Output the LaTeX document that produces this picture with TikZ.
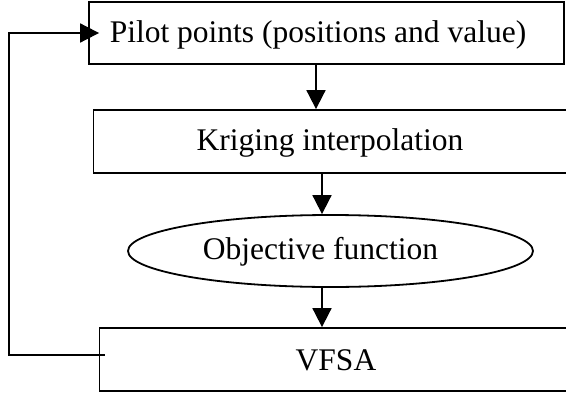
\documentclass[tikz,border=0pt]{standalone}
\usepackage{fontspec}
\setmainfont{Liberation Serif}
\usetikzlibrary{arrows.meta,shapes.geometric}
\begin{document}
\begin{tikzpicture}[x=1pt,y=-1pt,
  every node/.style={font=\fontsize{31.5}{36}\selectfont, inner sep=0pt},
  stepbox/.style={draw, line width=1.8pt, rectangle},
  ovalbox/.style={draw, line width=1.8pt, ellipse},
  arr/.style={line width=1.8pt, -{Triangle[length=19pt,width=19pt]}}]
\useasboundingbox (0,0) rectangle (566,394);
\node[stepbox, minimum width=475pt, minimum height=62pt,
  label={[xshift=-8.5pt,yshift=-1.5pt]center:Pilot points (positions and value)}] (b1) at (326.5,33) {};
\node[stepbox, minimum width=473pt, minimum height=63pt,
  label={[yshift=-1.5pt]center:Kriging interpolation}] (b2) at (330,141.5) {};
\node[ovalbox, minimum width=405pt, minimum height=72pt,
  label={[xshift=-10pt,yshift=-1pt]center:Objective function}] (ell) at (330.5,251) {};
\node[stepbox, minimum width=467pt, minimum height=63pt,
  label={[xshift=3pt,yshift=-1pt]center:VFSA}] (b3) at (333,359.5) {};
\coordinate (c1) at (316,0);
\coordinate (c2) at (322,0);
\coordinate (fbx) at (9,0);
\draw[arr] (b1.south -| c1) -- (b2.north -| c1);
\draw[arr] (b2.south -| c2) -- (ell.north -| c2);
\draw[arr] (ell.south -| c2) -- (b3.north -| c2);
\draw[arr] ([xshift=6pt,yshift=4.5pt]b3.west) -| (fbx |- b1.west) -- ([xshift=11pt]b1.west);
\end{tikzpicture}
\end{document}
